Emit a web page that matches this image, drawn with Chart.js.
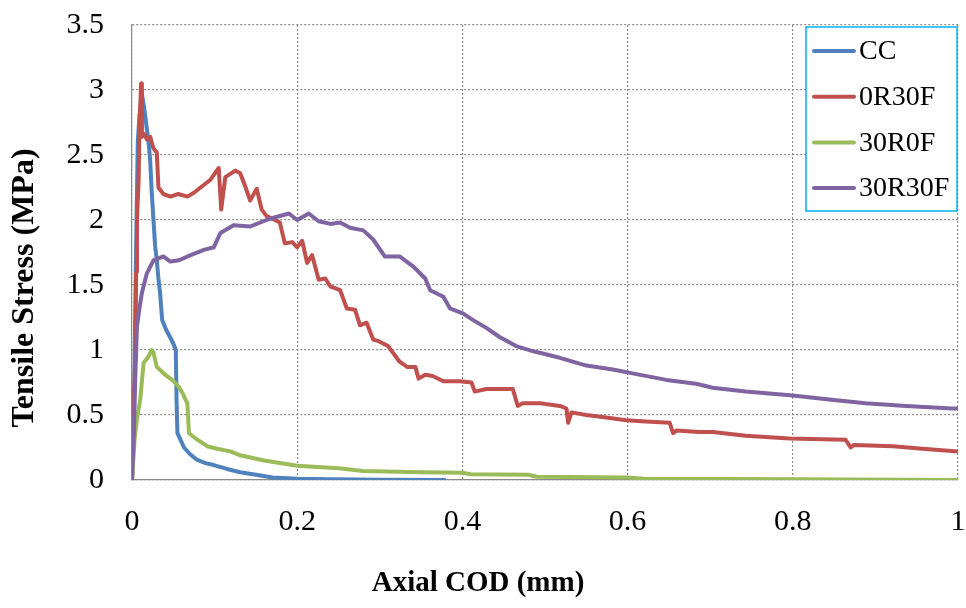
<!DOCTYPE html>
<html>
<head>
<meta charset="utf-8">
<script src="https://cdn.jsdelivr.net/npm/chart.js@4"></script>
<style>
  body { margin: 0; background: #fff; }
  canvas { display: block; }
</style>
</head>
<body>
<canvas id="myChart" width="966" height="608"></canvas>
<script>
// series names
var seriesNames = ["CC", "0R30F", "30R0F", "30R30F"];
var seriesColors = ["#4F81BD", "#C0504D", "#9BBB59", "#8064A2"];

// CC
var ccX = [0, 0.003, 0.005, 0.007, 0.009, 0.012, 0.015, 0.018, 0.02, 0.022, 0.024, 0.026, 0.028, 0.03, 0.032, 0.034, 0.0365, 0.041, 0.046, 0.05, 0.053, 0.054, 0.055, 0.058, 0.063, 0.07, 0.079, 0.089, 0.099, 0.115, 0.131, 0.15, 0.17, 0.2, 0.24, 0.3, 0.38];
var ccY = [0, 0.8, 1.8, 2.6, 2.8, 2.97, 2.85, 2.7, 2.6, 2.46, 2.2, 2.0, 1.8, 1.69, 1.55, 1.44, 1.23, 1.16, 1.1, 1.05, 1.0, 0.6, 0.36, 0.32, 0.25, 0.2, 0.154, 0.13, 0.115, 0.085, 0.06, 0.04, 0.02, 0.01, 0.005, 0.002, 0];

// 0R30F
var r0f30X = [0, 0.002, 0.004, 0.005, 0.006, 0.008, 0.009, 0.011, 0.012, 0.015, 0.018, 0.022, 0.026, 0.03, 0.032, 0.038, 0.0465, 0.056, 0.067, 0.075, 0.083, 0.095, 0.105, 0.108, 0.113, 0.125, 0.131, 0.137, 0.143, 0.151, 0.157, 0.163, 0.173, 0.179, 0.185, 0.194, 0.2, 0.206, 0.212, 0.218, 0.226, 0.234, 0.24, 0.252, 0.26, 0.27, 0.276, 0.284, 0.292, 0.298, 0.31, 0.324, 0.333, 0.343, 0.347, 0.355, 0.364, 0.377, 0.397, 0.411, 0.415, 0.429, 0.461, 0.467, 0.473, 0.494, 0.518, 0.526, 0.528, 0.532, 0.55, 0.574, 0.598, 0.622, 0.651, 0.655, 0.659, 0.687, 0.703, 0.743, 0.796, 0.864, 0.87, 0.874, 0.921, 0.957, 1.0];
var r0f30Y = [0, 0.5, 1.0, 1.6, 2.0, 2.3, 2.7, 3.05, 2.64, 2.66, 2.62, 2.64, 2.55, 2.52, 2.25, 2.2, 2.18, 2.2, 2.18, 2.21, 2.25, 2.31, 2.4, 2.08, 2.33, 2.38, 2.36, 2.26, 2.15, 2.24, 2.08, 2.03, 2.0, 1.98, 1.82, 1.83, 1.79, 1.84, 1.67, 1.73, 1.54, 1.55, 1.49, 1.46, 1.32, 1.31, 1.19, 1.21, 1.08, 1.07, 1.03, 0.91, 0.87, 0.87, 0.78, 0.81, 0.8, 0.76, 0.76, 0.75, 0.68, 0.7, 0.7, 0.57, 0.59, 0.59, 0.57, 0.55, 0.44, 0.52, 0.5, 0.48, 0.46, 0.45, 0.44, 0.36, 0.38, 0.37, 0.37, 0.34, 0.32, 0.31, 0.25, 0.27, 0.26, 0.24, 0.22];

// 30R0F
var r30f0X = [0, 0.003, 0.006, 0.01, 0.014, 0.02, 0.024, 0.026, 0.03, 0.035, 0.04, 0.0505, 0.056, 0.061, 0.067, 0.069, 0.079, 0.091, 0.103, 0.119, 0.131, 0.16, 0.2, 0.25, 0.28, 0.35, 0.4, 0.41, 0.48, 0.49, 0.6, 0.62, 0.8, 1.0];
var r30f0Y = [0, 0.3, 0.47, 0.62, 0.9, 0.95, 1.0, 0.98, 0.87, 0.84, 0.81, 0.76, 0.72, 0.67, 0.59, 0.36, 0.31, 0.26, 0.24, 0.22, 0.19, 0.15, 0.11, 0.09, 0.07, 0.06, 0.055, 0.045, 0.04, 0.025, 0.02, 0.01, 0.005, 0];

// 30R30F
var r30f30X = [0, 0.002, 0.004, 0.006, 0.009, 0.012, 0.018, 0.026, 0.038, 0.0465, 0.057, 0.071, 0.087, 0.099, 0.107, 0.123, 0.143, 0.167, 0.19, 0.2, 0.214, 0.226, 0.24, 0.252, 0.264, 0.28, 0.292, 0.306, 0.324, 0.341, 0.355, 0.361, 0.377, 0.385, 0.401, 0.413, 0.429, 0.445, 0.465, 0.486, 0.518, 0.55, 0.582, 0.606, 0.647, 0.683, 0.703, 0.743, 0.8, 0.844, 0.888, 0.937, 0.993, 1.0];
var r30f30Y = [0, 0.3, 0.8, 1.18, 1.32, 1.44, 1.59, 1.69, 1.72, 1.68, 1.69, 1.73, 1.77, 1.79, 1.9, 1.96, 1.95, 2.01, 2.05, 2.0, 2.05, 1.99, 1.97, 1.98, 1.94, 1.92, 1.85, 1.72, 1.72, 1.64, 1.55, 1.46, 1.41, 1.32, 1.28, 1.23, 1.17, 1.1, 1.03, 0.99, 0.94, 0.88, 0.85, 0.82, 0.77, 0.74, 0.71, 0.68, 0.65, 0.62, 0.59, 0.57, 0.55, 0.55];

var xTitle = "Axial COD (mm)";
var yTitle = "Tensile Stress (MPa)";

function pts(xs, ys) {
  return xs.map(function (x, i) { return { x: x, y: ys[i] }; });
}

var seriesData = [pts(ccX, ccY), pts(r0f30X, r0f30Y), pts(r30f0X, r30f0Y), pts(r30f30X, r30f30Y)];

var serif = "'Liberation Serif', 'Times New Roman', serif";

// plain number labels: 0, 0.5, 1 ...
function fmt(v) { return String(Math.round(v * 100) / 100); }

// keep chart.js from adding its own label padding
function noPad(s) {
  s.paddingTop = 0; s.paddingBottom = 0; s.paddingLeft = 0; s.paddingRight = 0;
}

// legend box and axis titles drawn on the canvas
var extras = {
  id: "extras",
  afterDraw: function (chart) {
    var ctx = chart.ctx;
    ctx.save();
    // legend
    ctx.fillStyle = "#fff";
    ctx.fillRect(806, 27, 151, 184);
    ctx.strokeStyle = "#00B0F0";
    ctx.lineWidth = 1.5;
    ctx.strokeRect(806, 27, 151, 184);
    ctx.font = "28px " + serif;
    ctx.textBaseline = "middle";
    ctx.textAlign = "left";
    chart.data.datasets.forEach(function (ds, i) {
      var y = 51 + i * 45.7;
      ctx.strokeStyle = ds.borderColor;
      ctx.lineWidth = 4;
      ctx.lineCap = "round";
      ctx.beginPath();
      ctx.moveTo(814, y);
      ctx.lineTo(854, y);
      ctx.stroke();
      ctx.fillStyle = "#000";
      ctx.fillText(ds.label, 859, y + 1);
    });
    // axis titles
    ctx.fillStyle = "#000";
    ctx.textAlign = "center";
    ctx.font = "bold 29px " + serif;
    ctx.fillText(xTitle, 478, 584);
    ctx.translate(25, 288);
    ctx.rotate(-Math.PI / 2);
    ctx.font = "bold 32px " + serif;
    ctx.fillText(yTitle, 0, 0);
    ctx.restore();
  }
};

var ctx1 = document.getElementById("myChart").getContext("2d");
var myChart1 = new Chart(ctx1, {
  type: "line",
  data: {
    datasets: seriesNames.map(function (name, i) {
      return {
        label: name,
        data: seriesData[i],
        borderColor: seriesColors[i],
        backgroundColor: seriesColors[i],
        borderWidth: 4,
        pointRadius: 0,
        tension: 0,
        fill: false,
        borderJoinStyle: "round",
        order: 3 - i,
      };
    }),
  },
  options: {
    responsive: false,
    animation: false,
    layout: { padding: { top: 25, right: 8, bottom: 0, left: 0 } },
    plugins: { legend: { display: false }, tooltip: { enabled: false } },
    scales: {
      x: {
        type: "linear",
        min: 0,
        max: 1,
        ticks: { stepSize: 0.2, color: "#000", padding: 24, maxRotation: 0, font: { family: serif, size: 30 }, callback: fmt },
        grid: { color: "#8a8a8a", lineWidth: 1.2, drawTicks: false },
        border: { color: "#8a8a8a", width: 1.2, dash: [2, 2] },
        afterFit: function (s) { s.height = 128; noPad(s); },
      },
      y: {
        min: 0,
        max: 3.5,
        ticks: { stepSize: 0.5, color: "#000", padding: 28, font: { family: serif, size: 30 }, callback: fmt },
        grid: { color: "#8a8a8a", lineWidth: 1.2, drawTicks: false },
        border: { color: "#8a8a8a", width: 1.2, dash: [2, 2] },
        afterFit: function (s) { s.width = 132; noPad(s); },
      },
    },
  },
  plugins: [extras],
});
</script>
</body>
</html>
